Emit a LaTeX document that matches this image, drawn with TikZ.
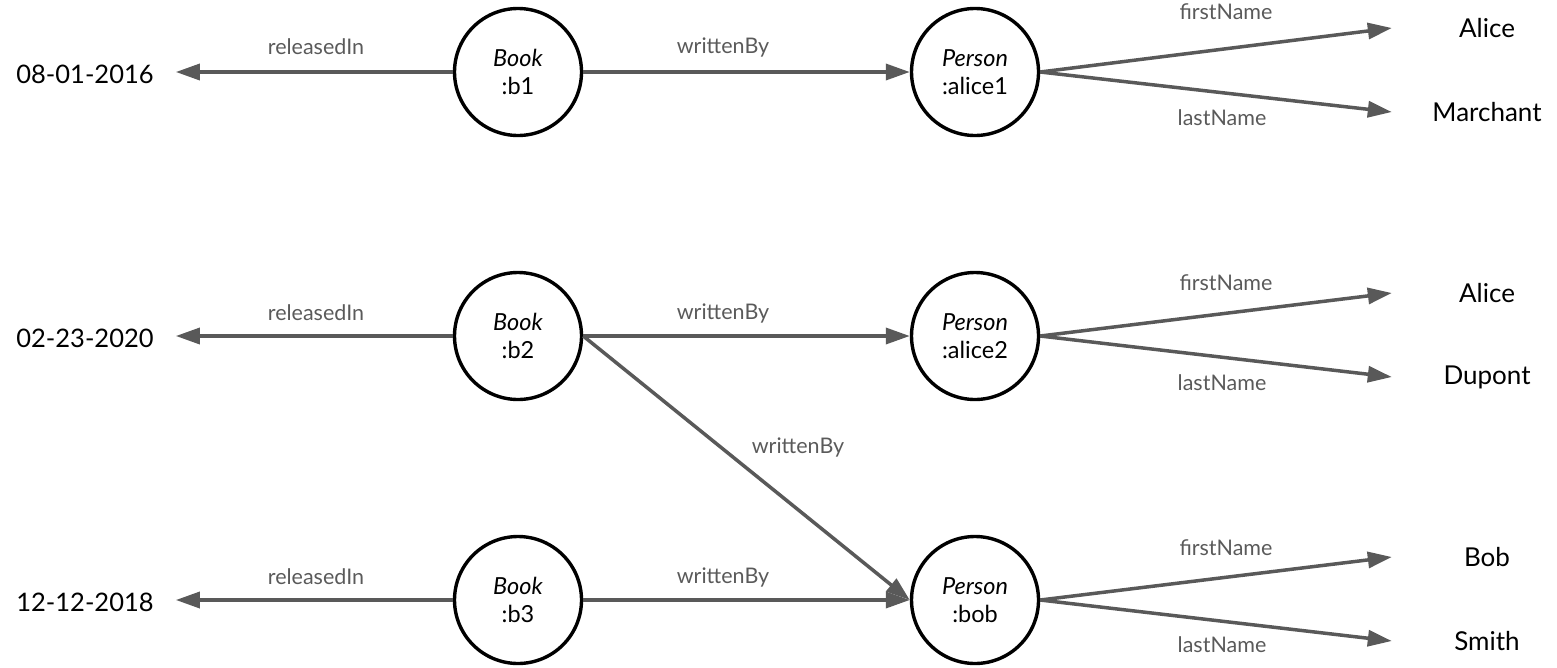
\documentclass[tikz,border=0pt]{standalone}
\usepackage{fontspec}
\setmainfont{Lato}
\usetikzlibrary{arrows.meta}
\definecolor{edgegray}{HTML}{595959}
\definecolor{labelgray}{HTML}{5A5A5A}
\begin{document}
\begin{tikzpicture}[x=1pt,y=-1pt,
  res/.style={circle,draw=black,line width=3.4pt,minimum size=127pt,inner sep=0pt,align=center,font=\fontsize{23.5}{28}\selectfont},
  datebox/.style={inner ysep=0pt,inner xsep=22pt,font=\fontsize{25.5}{30}\selectfont},
  valbox/.style={minimum width=190pt,inner sep=0pt,font=\fontsize{26}{30}\selectfont},
  rel/.style={draw=edgegray,line width=3.5pt,-{Triangle[length=24pt,width=16pt]}},
  lab/.style={text=labelgray,font=\fontsize{21.5}{25}\selectfont}]
\useasboundingbox (0,0) rectangle (1557,667);
% resources
\node[res] (b1) at (518,72) {\textit{Book}\\:b1};
\node[res] (b2) at (518,336) {\textit{Book}\\:b2};
\node[res] (b3) at (518,600) {\textit{Book}\\:b3};
\node[res] (a1) at (975,72) {\textit{Person}\\:alice1};
\node[res] (a2) at (975,336) {\textit{Person}\\:alice2};
\node[res] (bob) at (975,600) {\textit{Person}\\:bob};
% dates
\node[datebox] (d1) at (85,74) {08-01-2016};
\node[datebox] (d2) at (85,338) {02-23-2020};
\node[datebox] (d3) at (85,602) {12-12-2018};
% values
\node[valbox] (v1) at (1487,28) {Alice};
\node[valbox] (v2) at (1487,112) {Marchant};
\node[valbox] (v3) at (1487,293) {Alice};
\node[valbox] (v4) at (1487,377) {Dupont};
\node[valbox] (v5) at (1487,557) {Bob};
\node[valbox] (v6) at (1487,641) {Smith};
% edges
\draw[rel] (b1) -- (d1.east |- b1);
\draw[rel] (b2) -- (d2.east |- b2);
\draw[rel] (b3) -- (d3.east |- b3);
\draw[rel] (b1) -- (a1);
\draw[rel] (b2) -- (a2);
\draw[rel] (b3) -- (bob);
\draw[rel] (b2.east) -- (bob.west);
\draw[rel] (a1.east) -- (v1.west);
\draw[rel] (a1.east) -- (v2.west);
\draw[rel] (a2.east) -- (v3.west);
\draw[rel] (a2.east) -- (v4.west);
\draw[rel] (bob.east) -- (v5.west);
\draw[rel] (bob.east) -- (v6.west);
% labels
\node[lab] at (316,47) {releasedIn};
\node[lab] at (316,313) {releasedIn};
\node[lab] at (316,577) {releasedIn};
\node[lab] at (723,47) {writtenBy};
\node[lab] at (723,313) {writtenBy};
\node[lab] at (723,577) {writtenBy};
\node[lab] at (798,447) {writtenBy};
\node[lab] at (1226,12) {firstName};
\node[lab] at (1226,283) {firstName};
\node[lab] at (1226,548) {firstName};
\node[lab] at (1222,118) {lastName};
\node[lab] at (1222,383) {lastName};
\node[lab] at (1222,645) {lastName};
\end{tikzpicture}
\end{document}
